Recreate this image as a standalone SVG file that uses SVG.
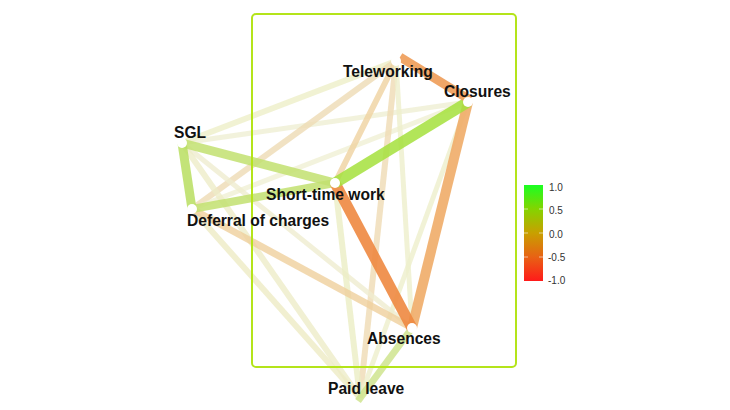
<svg xmlns="http://www.w3.org/2000/svg" width="730" height="410" viewBox="0 0 730 410">
<defs>
<style>
.e{fill:none;stroke-linecap:butt}
.lbl{font-family:"Liberation Sans",Arial,sans-serif;font-weight:bold;font-size:15.6px;fill:#111}
.lg{font-family:"Liberation Sans",Arial,sans-serif;font-size:10px;fill:#333}
.dot{fill:#fff}
.tk{stroke:#fff;stroke-width:0.8;opacity:0.7}
</style>
<linearGradient id="grad" x1="0" y1="0" x2="0" y2="1">
<stop offset="0" stop-color="#1aff22"/>
<stop offset="0.25" stop-color="#84d400"/>
<stop offset="0.5" stop-color="#c8a000"/>
<stop offset="0.75" stop-color="#e86214"/>
<stop offset="1" stop-color="#ff1a1a"/>
</linearGradient>
</defs>
<rect width="730" height="410" fill="#fff"/>
<g id="edges">
<!-- faint edges -->
<line class="e" x1="182" y1="143" x2="396" y2="61" stroke="#ecedc4" stroke-width="6" opacity="0.75"/>
<line class="e" x1="182" y1="143" x2="468" y2="102" stroke="#eeeed0" stroke-width="5" opacity="0.75"/>
<line class="e" x1="192" y1="209" x2="396" y2="61" stroke="#eedbb4" stroke-width="6" opacity="0.8"/>
<line class="e" x1="192" y1="209" x2="468" y2="102" stroke="#efefd2" stroke-width="5" opacity="0.75"/>
<line class="e" x1="396" y1="61" x2="335" y2="183" stroke="#efd2a0" stroke-width="6" opacity="0.8"/>
<line class="e" x1="396" y1="61" x2="360" y2="398" stroke="#efdbb4" stroke-width="6" opacity="0.8"/>
<line class="e" x1="396" y1="61" x2="412" y2="328" stroke="#eeefcc" stroke-width="5" opacity="0.8"/>
<line class="e" x1="468" y1="102" x2="360" y2="398" stroke="#eeefcc" stroke-width="5" opacity="0.8"/>
<line class="e" x1="182" y1="143" x2="412" y2="328" stroke="#efeccf" stroke-width="5" opacity="0.8"/>
<line class="e" x1="182" y1="143" x2="360" y2="398" stroke="#edecc8" stroke-width="6" opacity="0.8"/>
<line class="e" x1="192" y1="209" x2="360" y2="398" stroke="#edebc4" stroke-width="6" opacity="0.8"/>
<line class="e" x1="335" y1="183" x2="360" y2="398" stroke="#ebeec4" stroke-width="6" opacity="0.8"/>
<!-- medium edges -->
<line class="e" x1="192" y1="209" x2="412" y2="328" stroke="#efcf9c" stroke-width="7" opacity="0.8"/>
<line class="e" x1="412" y1="328" x2="358" y2="401" stroke="#cfe48e" stroke-width="7" opacity="0.85"/>
<line class="e" x1="192" y1="209" x2="335" y2="183" stroke="#c2e070" stroke-width="8" opacity="0.85"/>
<line class="e" x1="182" y1="143" x2="335" y2="183" stroke="#c2e070" stroke-width="9" opacity="0.85"/>
<line class="e" x1="182" y1="143" x2="192" y2="209" stroke="#b8de60" stroke-width="9" opacity="0.85"/>
<!-- strong edges -->
<line class="e" x1="468" y1="102" x2="412" y2="328" stroke="#efac68" stroke-width="10" opacity="0.9"/>
<line class="e" x1="335" y1="183" x2="412" y2="328" stroke="#ee8840" stroke-width="11" opacity="0.9"/>
<line class="e" x1="468" y1="102" x2="335" y2="183" stroke="#a4e03c" stroke-width="11" opacity="0.85"/>
<line class="e" x1="400" y1="57" x2="470" y2="100" stroke="#ee9c58" stroke-width="9" opacity="0.9"/>
</g>
<rect x="252" y="14" width="264" height="353" rx="4" fill="none" stroke="#b4e41a" stroke-width="2"/>
<g id="n-teleworking"><circle class="dot" cx="396" cy="61" r="5"/><text class="lbl" x="343" y="77">Teleworking</text></g>
<g id="n-closures"><circle class="dot" cx="468" cy="102" r="5"/><text class="lbl" x="444" y="97">Closures</text></g>
<g id="n-sgl"><circle class="dot" cx="182" cy="143" r="5"/><text class="lbl" x="174" y="138">SGL</text></g>
<g id="n-stw"><circle class="dot" cx="335" cy="183" r="5"/><text class="lbl" x="266" y="200">Short-time work</text></g>
<g id="n-deferral"><circle class="dot" cx="192" cy="209" r="5"/><text class="lbl" x="187" y="226">Deferral of charges</text></g>
<g id="n-absences"><circle class="dot" cx="412" cy="328" r="5"/><text class="lbl" x="367" y="344">Absences</text></g>
<g id="n-paidleave"><text class="lbl" x="328" y="394">Paid leave</text></g>
<g id="legend">
<rect x="524" y="185" width="19" height="96" fill="url(#grad)"/>
<line class="tk" x1="524" y1="209" x2="528" y2="209"/><line class="tk" x1="539" y1="209" x2="543" y2="209"/>
<line class="tk" x1="524" y1="233" x2="528" y2="233"/><line class="tk" x1="539" y1="233" x2="543" y2="233"/>
<line class="tk" x1="524" y1="257" x2="528" y2="257"/><line class="tk" x1="539" y1="257" x2="543" y2="257"/>
<text class="lg" x="549" y="191">1.0</text>
<text class="lg" x="549" y="214">0.5</text>
<text class="lg" x="549" y="238">0.0</text>
<text class="lg" x="548" y="261">-0.5</text>
<text class="lg" x="548" y="284">-1.0</text>
</g>
</svg>
